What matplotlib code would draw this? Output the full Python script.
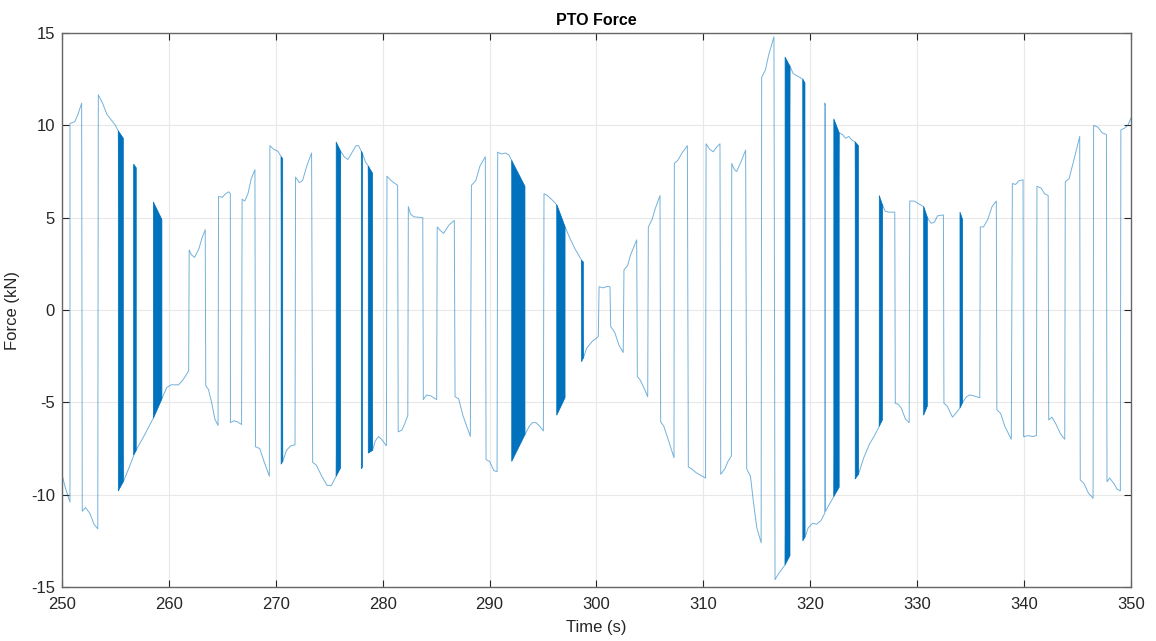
import matplotlib.pyplot as plt

plt.rcParams['font.family'] = ['Liberation Sans', 'DejaVu Sans']
plt.rcParams['axes.unicode_minus'] = False

# PTO force trace: (time in s, force in kN) breakpoints
time_s = [
    250.0, 250.3, 250.75, 250.75, 251.2, 251.5, 251.84, 251.9, 252.2, 252.6, 253.0, 253.35,
    253.4, 253.8, 254.2, 254.6, 255.0, 255.27, 255.74, 256.3, 256.83, 257.6, 258.55, 259.35,
    259.8, 260.2, 260.9, 261.3, 261.85, 261.9, 262.1, 262.4, 262.8, 263.1, 263.4, 263.45,
    263.7, 264.0, 264.3, 264.6, 264.65, 265.0, 265.3, 265.6, 265.75, 265.76, 266.1, 266.4,
    266.8, 266.85, 267.1, 267.4, 267.7, 268.05, 268.1, 268.5, 268.9, 269.4, 269.45, 269.8,
    270.2, 270.5, 270.65, 271.0, 271.4, 271.8, 271.85, 272.2, 272.5, 272.9, 273.35, 273.45,
    273.8, 274.3, 274.8, 275.2, 275.65, 276.07, 276.4, 276.75, 277.1, 277.5, 277.75, 278.0,
    278.12, 278.4, 278.65, 279.06, 279.3, 279.6, 279.9, 280.35, 280.4, 280.8, 281.4, 281.45,
    281.8, 282.1, 282.35, 282.4, 282.6, 282.9, 283.75, 283.8, 284.1, 284.5, 285.05, 285.1,
    285.4, 285.7, 286.2, 286.7, 286.77, 287.1, 287.5, 288.2, 288.3, 288.7, 289.1, 289.6,
    289.67, 290.0, 290.4, 290.7, 290.76, 291.1, 291.5, 291.8, 292.07, 293.31, 293.7, 294.0,
    294.35, 294.7, 295.03, 295.09, 295.4, 295.96, 296.28, 297.06, 297.5, 298.0, 298.6, 298.77,
    299.08, 299.6, 300.17, 300.24, 300.64, 301.0, 301.26, 301.33, 301.7, 302.1, 302.5, 302.57,
    302.9, 303.2, 303.76, 303.82, 304.1, 304.5, 304.79, 304.85, 305.2, 305.5, 305.94, 306.0,
    306.3, 306.7, 307.25, 307.28, 307.6, 308.0, 308.5, 308.59, 308.9, 309.3, 309.6, 310.2,
    310.25, 310.6, 310.93, 311.2, 311.55, 311.62, 312.0, 312.3, 312.62, 312.65, 312.9, 313.11,
    313.5, 313.95, 314.05, 314.4, 314.7, 315.0, 315.4, 315.45, 315.8, 316.1, 316.6, 316.7,
    317.0, 317.64, 318.1, 318.4, 318.7, 319.0, 319.3, 319.5, 319.8, 320.2, 320.6, 321.0,
    321.35, 321.35, 321.42, 321.42, 321.8, 322.2, 322.7, 323.0, 323.3, 323.6, 323.9, 324.2,
    324.5, 325.0, 325.5, 326.0, 326.45, 326.75, 327.0, 327.3, 327.9, 327.95, 328.2, 328.5,
    328.9, 329.25, 329.3, 329.7, 330.0, 330.6, 330.95, 331.3, 331.6, 331.9, 332.45, 332.5,
    332.8, 333.3, 333.6, 334.0, 334.25, 334.6, 334.9, 335.3, 335.85, 335.9, 336.2, 336.6,
    337.0, 337.4, 337.45, 337.8, 338.2, 338.8, 338.9, 339.2, 339.5, 339.9, 339.95, 340.4,
    340.8, 341.15, 341.2, 341.6, 341.9, 342.25, 342.3, 342.6, 343.0, 343.4, 343.8, 343.85,
    344.2, 344.6, 345.2, 345.25, 345.6, 346.0, 346.45, 346.5, 346.9, 347.3, 347.7, 347.75,
    348.0, 348.4, 348.7, 349.0, 349.05, 349.4, 349.7, 350.0,
]
force_kN = [
    -8.9, -9.6, -10.4, 10.1, 10.2, 10.6, 11.2, -10.9, -10.7, -11.0, -11.6, -11.85,
    11.65, 11.2, 10.6, 10.3, 10.0, 9.7, -9.3, -8.5, -7.7, -6.9, -5.85, -4.8,
    -4.2, -4.05, -4.05, -3.8, -3.3, 3.25, 3.0, 2.85, 3.3, 3.9, 4.35, -4.1,
    -4.3, -5.0, -5.9, -6.25, 6.15, 6.1, 6.3, 6.4, 6.3, -6.1, -6.0, -6.05,
    -6.2, 6.0, 5.9, 6.3, 7.1, 7.6, -7.4, -7.5, -8.2, -9.0, 8.9, 8.7,
    8.6, 8.3, -8.2, -7.6, -7.35, -7.3, 7.2, 6.9, 7.0, 7.8, 8.5, -8.25,
    -8.4, -9.0, -9.5, -9.5, -9.0, 8.6, 8.3, 8.15, 8.5, 8.9, 8.9, 8.6,
    8.45, 8.0, 7.8, -7.6, -7.1, -6.85, -7.0, -7.35, 7.25, 7.0, 6.75, -6.6,
    -6.5, -6.1, -5.7, 5.6, 5.2, 5.05, 5.0, -4.85, -4.6, -4.65, -4.85, 4.5,
    4.3, 4.15, 4.6, 4.85, -4.7, -4.8, -5.7, -6.85, 6.75, 7.0, 7.8, 8.3,
    -8.1, -8.2, -8.7, -8.75, 8.55, 8.45, 8.5, 8.4, 8.1, -6.75, -6.3, -6.1,
    -6.1, -6.3, -6.55, 6.3, 6.2, 5.9, 5.7, 4.5, 3.9, 3.3, 2.7, -2.6,
    -2.07, -1.7, -1.44, 1.26, 1.2, 1.28, 1.26, -0.9, -1.2, -1.9, -2.3, 2.17,
    2.4, 3.0, 3.8, -3.6, -3.8, -4.3, -4.7, 4.5, 4.9, 5.5, 6.2, -6.05,
    -6.3, -7.0, -8.0, 7.94, 8.1, 8.5, 8.9, -8.5, -8.6, -8.8, -8.9, -9.1,
    9.0, 8.7, 8.57, 8.8, 9.0, -8.9, -8.6, -8.2, -7.9, 7.94, 7.6, 7.5,
    8.0, 8.66, -8.6, -9.0, -10.5, -11.8, -12.6, 12.6, 13.0, 13.8, 14.8, -14.6,
    -14.3, -13.8, 13.2, 12.8, 12.7, 12.6, 12.5, -12.3, -11.8, -11.55, -11.6, -11.4,
    -11.0, 11.2, 11.1, -10.9, -10.5, -10.1, 9.6, 9.5, 9.3, 9.4, 9.2, 9.1,
    -8.9, -8.0, -7.3, -6.8, -6.3, 5.7, 5.35, 5.3, 5.3, -5.05, -5.1, -5.3,
    -5.9, -6.1, 5.9, 5.9, 5.8, 5.6, 5.0, 4.7, 4.75, 5.1, 5.15, -5.05,
    -5.2, -5.8, -5.6, -5.3, -5.0, -4.7, -4.6, -4.65, -4.75, 4.5, 4.5, 4.9,
    5.6, 5.9, -5.4, -5.6, -6.3, -7.0, 6.85, 6.8, 7.0, 7.05, -6.86, -6.8,
    -6.85, -6.8, 6.7, 6.6, 6.3, 6.2, -5.95, -5.8, -6.2, -6.7, -7.0, 6.95,
    7.1, 8.0, 9.4, -9.2, -9.4, -9.9, -10.2, 10.0, 9.9, 9.6, 9.5, -9.3,
    -9.1, -9.4, -9.7, -9.8, 9.75, 9.85, 10.0, 10.4,
]

# fast switching intervals that show as solid bands
band_start = [255.27, 256.7, 258.55, 270.5, 275.65, 278.0, 278.65, 292.07, 296.28, 298.6,
              317.64, 319.3, 322.2, 324.2, 326.45, 330.6, 334.0]
band_end = [255.74, 256.95, 259.35, 270.65, 276.07, 278.12, 279.06, 293.31, 297.06, 298.77,
            318.1, 319.5, 322.7, 324.5, 326.75, 330.95, 334.25]
band_top0 = [9.7, 7.9, 5.85, 8.3, 9.1, 8.6, 7.8, 8.1, 5.7, 2.7,
             13.7, 12.5, 10.35, 9.1, 6.2, 5.6, 5.3]
band_top1 = [9.3, 7.7, 4.9, 8.2, 8.6, 8.45, 7.4, 6.7, 4.5, 2.6,
             13.2, 12.3, 9.6, 8.9, 5.7, 5.0, 4.9]
band_bot0 = [-9.8, -7.85, -5.85, -8.35, -9.0, -8.6, -7.75, -8.2, -5.7, -2.8,
             -13.8, -12.5, -10.1, -9.15, -6.3, -5.7, -5.3]
band_bot1 = [-9.3, -7.6, -4.8, -8.2, -8.55, -8.5, -7.6, -6.75, -4.75, -2.6,
             -13.3, -12.3, -9.6, -8.9, -5.95, -5.2, -5.0]

blue = '#0072BD'
dark = '#262626'

fig = plt.figure(figsize=(11.56, 6.41), dpi=100)
ax = fig.add_axes([0.0536, 0.0842, 0.9248, 0.8643])

ax.plot(time_s, force_kN, color=blue, linewidth=0.7, alpha=0.55)
for i in range(len(band_start)):
    ax.fill([band_start[i], band_end[i], band_end[i], band_start[i]],
            [band_top0[i], band_top1[i], band_bot1[i], band_bot0[i]],
            color=blue, linewidth=0.5, edgecolor=blue)

ax.set_xlim(250, 350)
ax.set_ylim(-15, 15)
ax.set_xticks(range(250, 351, 10))
ax.set_yticks(range(-15, 16, 5))
ax.grid(True, color='#e8e8e8', linewidth=0.8)
ax.set_axisbelow(True)
ax.tick_params(direction='in', top=True, right=True, length=5, width=0.8,
               colors=dark, labelsize=12, labelcolor=dark)
ax.tick_params(axis='x', pad=7)
ax.tick_params(axis='y', pad=5)
for s in ax.spines.values():
    s.set_color('#666666')
    s.set_linewidth(1.0)

ax.set_title('PTO Force', fontsize=11.5, fontweight='bold', color='black', pad=6)
ax.set_xlabel('Time (s)', fontsize=12, color=dark, labelpad=6)
ax.set_ylabel('Force (kN)', fontsize=12, color=dark, labelpad=8)

fig.savefig('out.png', dpi=100, facecolor='white')
